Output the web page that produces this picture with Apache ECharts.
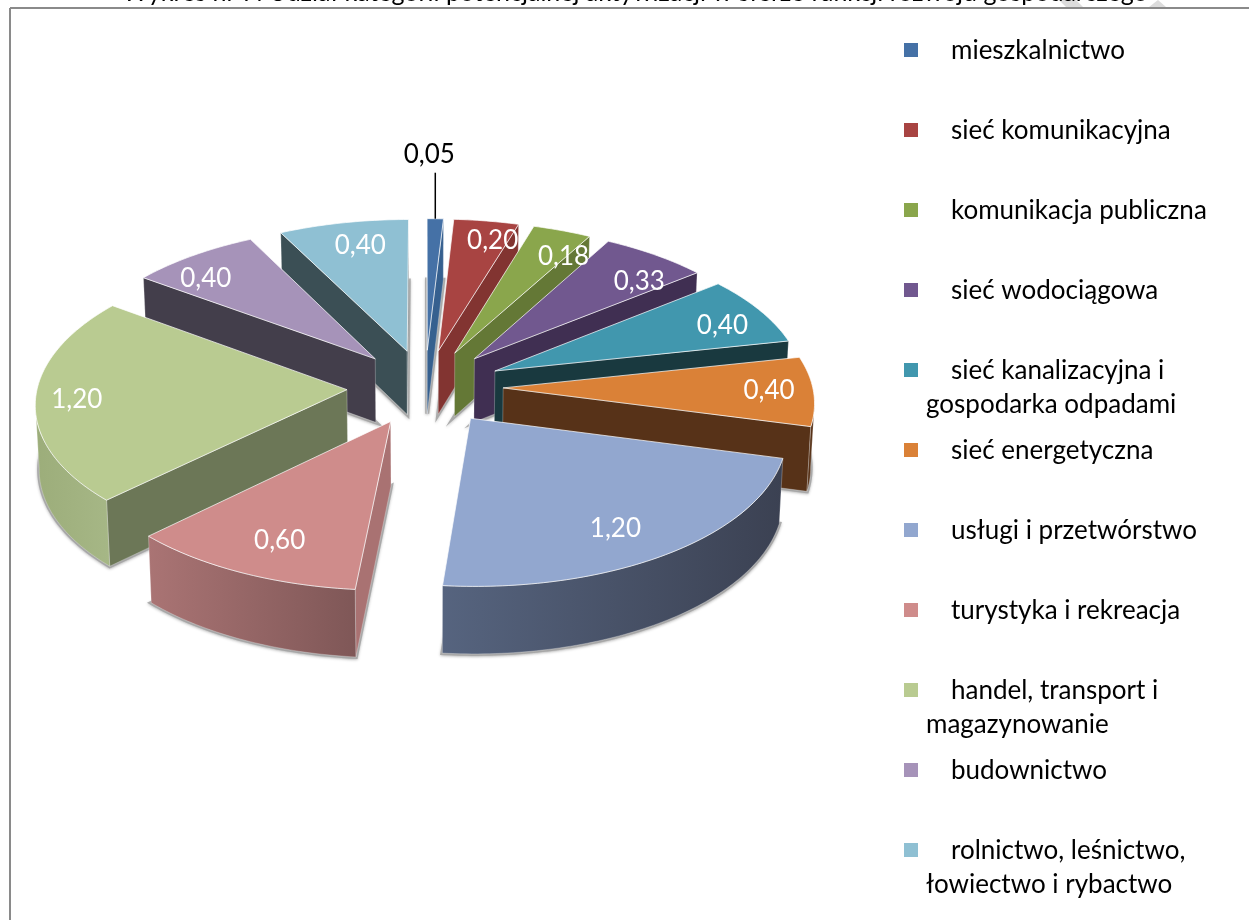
<!DOCTYPE html>
<html>
<head>
<meta charset="utf-8">
<title>wykres</title>
<script src="https://cdn.jsdelivr.net/npm/echarts@6/dist/echarts.min.js"></script>
<style>
  html, body { margin: 0; padding: 0; background: #fff; }
  #chart { width: 1249px; height: 920px; }
</style>
</head>
<body>
<div id="chart"></div>
<script>
// dane
var categories = [
  'mieszkalnictwo',
  'sieć komunikacyjna',
  'komunikacja publiczna',
  'sieć wodociągowa',
  'sieć kanalizacyjna i\ngospodarka odpadami',
  'sieć energetyczna',
  'usługi i przetwórstwo',
  'turystyka i rekreacja',
  'handel, transport i\nmagazynowanie',
  'budownictwo',
  'rolnictwo, leśnictwo,\nłowiectwo i rybactwo'
]
var values = [0.05, 0.20, 0.18, 0.33, 0.40, 0.40, 1.20, 0.60, 1.20, 0.40, 0.40]
var titleText = 'Wykres nr 7. Udział kategorii potencjalnej aktywizacji w sferze funkcji rozwoju gospodarczego'

var topColors = ['#4571a6', '#a84442', '#8aa64c', '#71588f', '#4197ae', '#da8137', '#92a7cf', '#cf8c8b', '#b9cb91', '#a693b9', '#8fc0d3']
var sideColors = ['#36608f', '#823431', '#647836', '#402f52', '#19393f', '#573218', '#3b4152', '#a97272', '#6c7757', '#433e4b', '#3b4f55']
var arcFrom = ['#4571a6', '#823431', '#647836', '#402f52', '#19393f', '#573218', '#56647f', '#aa7474', '#9cad7a', '#433e4b', '#3b4f55']
var arcTo = ['#36608f', '#823431', '#647836', '#402f52', '#19393f', '#573218', '#3b4152', '#7f5757', '#a6b786', '#433e4b', '#3b4f55']

// polozenie etykiet wzgledem wierzcholka wycinka: promien i kat
var labelRadius = [1, 0.85, 0.815, 0.805, 0.83, 0.857, 0.8, 0.795, 0.868, 0.83, 0.81]
var labelAngle = [1.68, 13.2, 28.2, 45.5, 67.6, 91.4, 147.9, 204, 265.8, 314.6, 348]

var FONT = 'Lato, "Noto Sans", sans-serif'
var CX = 425, CY = 387, RX = 309.5, RY = 148.5, PERSP = 0.0837, EXPLODE = 0.2525, DEPTH = 64, LEAN = 0.01

var total = values.reduce(function (a, b) { return a + b }, 0)
var rad = Math.PI / 180
var starts = []
values.reduce(function (acc, v, i) {
  starts[i] = acc
  return acc + v / total * 360
}, 0)

function project (u, v) {
  var w = 1 + PERSP * v
  return { x: CX + RX * u / w, y: CY - RY * v / w, drop: DEPTH / Math.sqrt(w) }
}
function bottom (p) {
  return [p.x - (p.x - CX) * LEAN, p.y + p.drop]
}
function top2d (p) {
  return [p.x, p.y]
}
function apexOf (i) {
  var mid = (starts[i] + values[i] / total * 180) * rad
  return { u: EXPLODE * Math.sin(mid), v: EXPLODE * Math.cos(mid) }
}
function groundPoint (i, deg, r) {
  var a = apexOf(i)
  return project(a.u + r * Math.sin(deg * rad), a.v + r * Math.cos(deg * rad))
}

function wallStyle (fill) {
  return { fill: fill, stroke: 'rgba(255,255,255,0.45)', lineWidth: 0.6 }
}

function renderSlice (params, api) {
  var i = api.value(0)
  var sweep = api.value(1) / total * 360
  var a = apexOf(i)
  var apex = project(a.u, a.v)
  var steps = Math.max(2, Math.ceil(sweep))
  var arc = []
  for (var s = 0; s <= steps; s++) {
    arc.push(groundPoint(i, starts[i] + sweep * s / steps, 1))
  }
  // cien pod wycinkiem: dolna sciana z szarym obrysem
  var children = [{
    type: 'polygon',
    shape: { points: [bottom(apex)].concat(arc.map(bottom)) },
    style: {
      fill: '#999',
      stroke: 'rgba(165,165,165,0.9)',
      lineWidth: 4,
      shadowColor: 'rgba(0,0,0,0.25)',
      shadowBlur: 3,
      shadowOffsetY: 1
    }
  }]
  function quad (p, q) {
    children.push({
      type: 'polygon',
      shape: { points: [top2d(p), top2d(q), bottom(q), bottom(p)] },
      style: wallStyle(sideColors[i])
    })
  }
  // sciany widoczne to tylko te idace w lewo na ekranie
  if (arc[0].x < apex.x) quad(apex, arc[0])
  if (apex.x < arc[steps].x) quad(arc[steps], apex)
  var run = []
  for (var k = 0; k < steps; k++) {
    if (arc[k + 1].x < arc[k].x) {
      if (!run.length) run.push(arc[k])
      run.push(arc[k + 1])
    }
  }
  if (run.length) {
    children.push({
      type: 'polygon',
      shape: { points: run.map(top2d).concat(run.slice().reverse().map(bottom)) },
      style: wallStyle(new echarts.graphic.LinearGradient(0, 0, 1, 0, [
        { offset: 0, color: arcFrom[i] },
        { offset: 1, color: arcTo[i] }
      ]))
    })
  }
  children.push({
    type: 'polygon',
    shape: { points: [top2d(apex)].concat(arc.map(top2d)) },
    style: { fill: topColors[i], stroke: 'rgba(255,255,255,0.7)', lineWidth: 1 }
  })

  var text = api.value(1).toFixed(2).replace('.', ',')
  var pos = groundPoint(i, labelAngle[i], labelRadius[i])
  if (i === 0) {
    // najmniejszy wycinek ma etykiete na zewnatrz, z linia
    children.push({
      type: 'line',
      z2: 90,
      shape: { x1: pos.x, y1: pos.y, x2: pos.x, y2: pos.y - 46 },
      style: { stroke: '#000', lineWidth: 1.5 }
    })
    children.push({
      type: 'text',
      z2: 100,
      style: { text: text, x: pos.x - 6, y: pos.y - 64, align: 'center', verticalAlign: 'middle', fill: '#000', fontSize: 26, fontFamily: FONT }
    })
  } else {
    children.push({
      type: 'text',
      z2: 100,
      style: { text: text, x: pos.x, y: pos.y, align: 'center', verticalAlign: 'middle', fill: '#fff', fontSize: 26, fontFamily: FONT }
    })
  }
  return { type: 'group', children: children }
}

// kolejnosc rysowania: od najdalszych wycinkow
var drawOrder = values.map(function (v, i) { return i }).sort(function (p, q) {
  return apexOf(q).v - apexOf(p).v
})

// tytul jest uciety gorna krawedzia, widac tylko dolna czesc liter
var graphicItems = [
  { type: 'polygon', shape: { points: [[1059, 0], [1076, 0], [1083, 7], [1066, 7]] }, style: { fill: '#dcdcdc' } },
  { type: 'polygon', shape: { points: [[1149, 7], [1158, 0], [1166, 7]] }, style: { fill: '#dcdcdc' } },
  { type: 'text', style: { text: titleText, x: 635, y: 5, align: 'center', verticalAlign: 'bottom', fill: '#000', fontSize: 25, fontFamily: FONT } },
  { type: 'line', shape: { x1: 10, y1: 8, x2: 1249, y2: 8 }, style: { stroke: '#8a8a8a', lineWidth: 2 } },
  { type: 'line', shape: { x1: 10, y1: 8, x2: 10, y2: 920 }, style: { stroke: '#8a8a8a', lineWidth: 2 } }
]
categories.forEach(function (name, i) {
  var y = 50 + i * 80
  var lines = name.split('\n')
  graphicItems.push({ type: 'rect', shape: { x: 904, y: y - 7, width: 14, height: 14 }, style: { fill: topColors[i] } })
  graphicItems.push({ type: 'text', style: { text: lines[0], x: 951, y: y + 1, align: 'left', verticalAlign: 'middle', fill: '#000', fontSize: 26, fontFamily: FONT } })
  if (lines[1]) {
    graphicItems.push({ type: 'text', style: { text: lines[1], x: 926, y: y + 35, align: 'left', verticalAlign: 'middle', fill: '#000', fontSize: 26, fontFamily: FONT } })
  }
})

var chart = echarts.init(document.getElementById('chart'))
chart.setOption({
  animation: false,
  backgroundColor: '#fff',
  graphic: { elements: graphicItems },
  series: [{
    type: 'custom',
    coordinateSystem: 'none',
    renderItem: renderSlice,
    data: drawOrder.map(function (i) {
      return { name: categories[i], value: [i, values[i]] }
    })
  }]
})
</script>
</body>
</html>
